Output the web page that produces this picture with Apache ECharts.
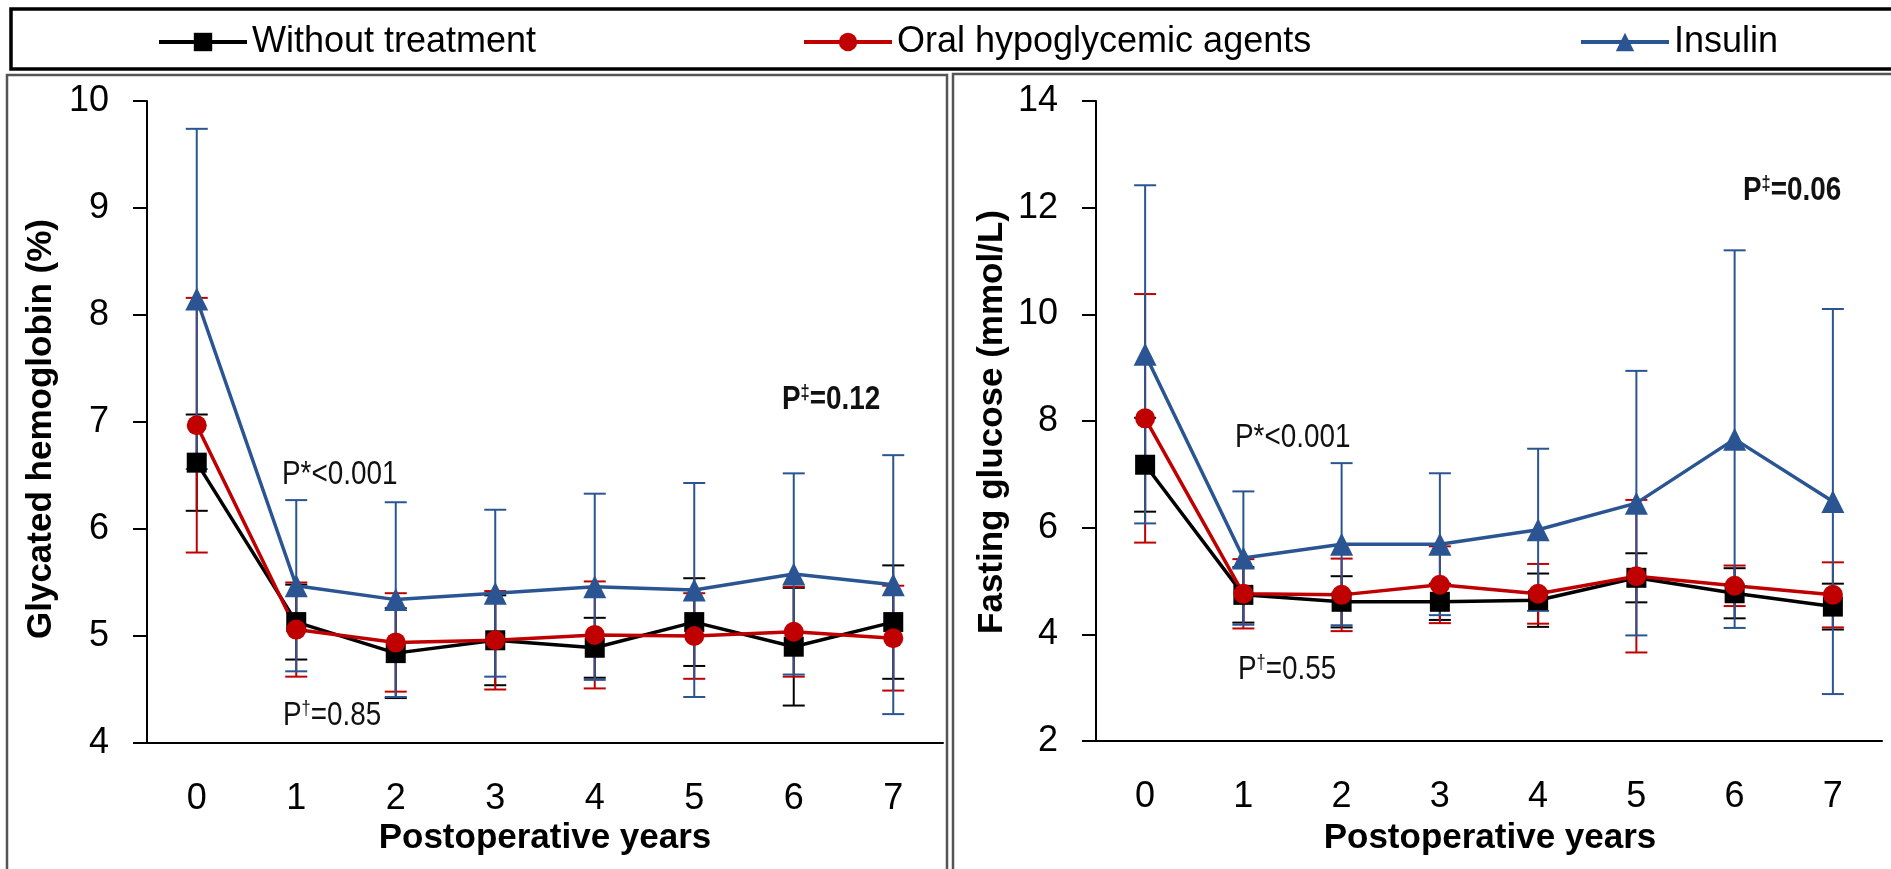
<!DOCTYPE html>
<html>
<head>
<meta charset="UTF-8">
<script src="https://cdn.jsdelivr.net/npm/echarts@6/dist/echarts.min.js"></script>
<style>
  html, body { margin: 0; padding: 0; background: #fff; }
  #main { width: 1891px; height: 869px; }
</style>
</head>
<body>
<div id="main"></div>
<script>
// postoperative years
var years = ['0', '1', '2', '3', '4', '5', '6', '7'];
var seriesNames = ['Without treatment', 'Oral hypoglycemic agents', 'Insulin'];

// glycated hemoglobin (%), mean and SD
var hbaNone = [6.62, 5.13, 4.84, 4.96, 4.89, 5.13, 4.90, 5.13];
var hbaNoneSd = [0.45, 0.35, 0.42, 0.42, 0.28, 0.41, 0.55, 0.53];
var hbaOral = [6.97, 5.06, 4.94, 4.96, 5.01, 5.00, 5.04, 4.98];
var hbaOralSd = [1.19, 0.44, 0.46, 0.46, 0.50, 0.40, 0.42, 0.49];
var hbaIns = [8.15, 5.47, 5.34, 5.40, 5.46, 5.43, 5.58, 5.48];
var hbaInsSd = [1.59, 0.80, 0.91, 0.78, 0.87, 1.00, 0.94, 1.21];

// fasting glucose (mmol/L), mean and SD
var fpgNone = [7.18, 4.74, 4.61, 4.61, 4.64, 5.06, 4.77, 4.52];
var fpgNoneSd = [0.88, 0.52, 0.48, 0.34, 0.50, 0.46, 0.47, 0.43];
var fpgOral = [8.05, 4.76, 4.74, 4.93, 4.76, 5.09, 4.91, 4.74];
var fpgOralSd = [2.33, 0.65, 0.68, 0.72, 0.56, 1.43, 0.38, 0.61];
var fpgIns = [9.25, 5.43, 5.69, 5.69, 5.96, 6.46, 7.66, 6.49];
var fpgInsSd = [3.17, 1.25, 1.52, 1.33, 1.52, 2.48, 3.54, 3.61];

var hbaTicks = [4, 10, 1];
var fpgTicks = [2, 14, 2];

var colors = ['#000000', '#C00000', '#2A5592'];
var symbols = ['rect', 'circle', 'triangle'];
var symbolSizes = [20, 20, 23];

var FONT = '"Liberation Sans", Arial, sans-serif';

var chart = echarts.init(document.getElementById('main'));

function errRender(color) {
	return function(params, api) {
		var x = api.value(0), m = api.value(1), sd = api.value(2);
		var hi = api.coord([x, m + sd]);
		var lo = api.coord([x, m - sd]);
		var half = 11;
		var st = { stroke: color, lineWidth: 2 };
		return {
			type: 'group',
			children: [
				{ type: 'line', shape: { x1: hi[0], y1: hi[1], x2: lo[0], y2: lo[1] }, style: st },
				{ type: 'line', shape: { x1: hi[0] - half, y1: hi[1], x2: hi[0] + half, y2: hi[1] }, style: st },
				{ type: 'line', shape: { x1: lo[0] - half, y1: lo[1], x2: lo[0] + half, y2: lo[1] }, style: st }
			]
		};
	};
}

function makeSeries(idx, means, sds) {
	var out = [];
	for (var k = 0; k < 3; k++) {
		out.push({
			name: seriesNames[k],
			type: 'line',
			xAxisIndex: idx,
			yAxisIndex: idx,
			data: means[k],
			symbol: symbols[k],
			symbolSize: symbolSizes[k],
			showAllSymbol: true,
			itemStyle: { color: colors[k] },
			lineStyle: { color: colors[k], width: 3.5 },
			z: 3
		});
	}
	for (var j = 0; j < 3; j++) {
		out.push({
			name: seriesNames[j],
			type: 'custom',
			xAxisIndex: idx,
			yAxisIndex: idx,
			renderItem: errRender(colors[j]),
			data: years.map(function(y, i) { return [i, means[j][i], sds[j][i]]; }),
			encode: { x: 0, y: 1 },
			z: 1
		});
	}
	return out;
}

function xAx(idx) {
	return {
		type: 'category',
		gridIndex: idx,
		data: years,
		boundaryGap: true,
		axisLine: { lineStyle: { color: '#000', width: 2 } },
		axisTick: { alignWithLabel: true, length: 10, lineStyle: { color: '#000', width: 2 } },
		axisLabel: { color: '#000', fontSize: 36, fontFamily: FONT, margin: 38 },
		splitLine: { show: false }
	};
}

function yAx(idx, t) {
	return {
		type: 'value',
		gridIndex: idx,
		min: t[0],
		max: t[1],
		interval: t[2],
		axisLine: { show: true, lineStyle: { color: '#000', width: 2 } },
		axisTick: { show: true, length: 14, lineStyle: { color: '#000', width: 2 } },
		axisLabel: { color: '#000', fontSize: 36, fontFamily: FONT, margin: 38 },
		splitLine: { show: false }
	};
}

function legendAt(name, x) {
	return {
		data: [name],
		left: x,
		top: 19,
		itemWidth: 88,
		itemHeight: 23,
		lineStyle: { width: 4 },
		textStyle: { color: '#000', fontSize: 36, fontFamily: FONT }
	};
}

// p-value notes, squeezed horizontally like the narrow font of the original
function pText(x, y, body, sup, rest, bold) {
	return {
		type: 'text',
		x: x,
		y: y,
		scaleX: 0.82,
		style: {
			text: body + (sup ? '{s|' + sup + '}' : '') + rest,
			fill: '#111',
			fontSize: 34,
			fontFamily: FONT,
			fontWeight: bold ? 'bold' : 'normal',
			align: 'left',
			verticalAlign: 'middle',
			textAlign: 'left',
			textVerticalAlign: 'middle',
			rich: {
				s: { fontSize: 20, fontFamily: FONT, fontWeight: bold ? 'bold' : 'normal', verticalAlign: 'top', fill: '#111' }
			}
		}
	};
}

function title(x, y, txt, rot) {
	return {
		type: 'text',
		x: x,
		y: y,
		rotation: rot,
		style: {
			text: txt,
			fill: '#000',
			fontSize: 35,
			fontWeight: 'bold',
			fontFamily: FONT,
			align: 'center',
			verticalAlign: 'middle',
			textAlign: 'center',
			textVerticalAlign: 'middle'
		}
	};
}

var option = {
	animation: false,
	backgroundColor: '#fff',
	legend: [
		legendAt(seriesNames[0], 152),
		legendAt(seriesNames[1], 797),
		legendAt(seriesNames[2], 1574)
	],
	grid: [
		{ left: 147, top: 101, width: 796, height: 642 },
		{ left: 1096, top: 101, width: 786, height: 640 }
	],
	xAxis: [xAx(0), xAx(1)],
	yAxis: [yAx(0, hbaTicks), yAx(1, fpgTicks)],
	graphic: [
		// legend box and panel frames
		{ type: 'rect', shape: { x: 11, y: 9, width: 1900, height: 60 }, style: { fill: 'none', stroke: '#000', lineWidth: 3.5 }, z: -1 },
		{ type: 'rect', shape: { x: 7, y: 75, width: 940, height: 800 }, style: { fill: 'none', stroke: '#555', lineWidth: 2.5 }, z: -1 },
		{ type: 'rect', shape: { x: 953, y: 74, width: 960, height: 800 }, style: { fill: 'none', stroke: '#555', lineWidth: 2.5 }, z: -1 },
		// axis titles
		title(41, 429, 'Glycated hemoglobin (%)', Math.PI / 2),
		title(992, 422, 'Fasting glucose (mmol/L)', Math.PI / 2),
		title(545, 838, 'Postoperative years', 0),
		title(1490, 838, 'Postoperative years', 0),
		// p values
		pText(282, 475, 'P*<0.001', '', '', false),
		pText(283, 716, 'P', '†', '=0.85', false),
		pText(782, 400, 'P', '‡', '=0.12', true),
		pText(1235, 438, 'P*<0.001', '', '', false),
		pText(1238, 670, 'P', '†', '=0.55', false),
		pText(1743, 191, 'P', '‡', '=0.06', true)
	],
	series: [].concat(
		makeSeries(0, [hbaNone, hbaOral, hbaIns], [hbaNoneSd, hbaOralSd, hbaInsSd]),
		makeSeries(1, [fpgNone, fpgOral, fpgIns], [fpgNoneSd, fpgOralSd, fpgInsSd])
	)
};

chart.setOption(option);
</script>
</body>
</html>
